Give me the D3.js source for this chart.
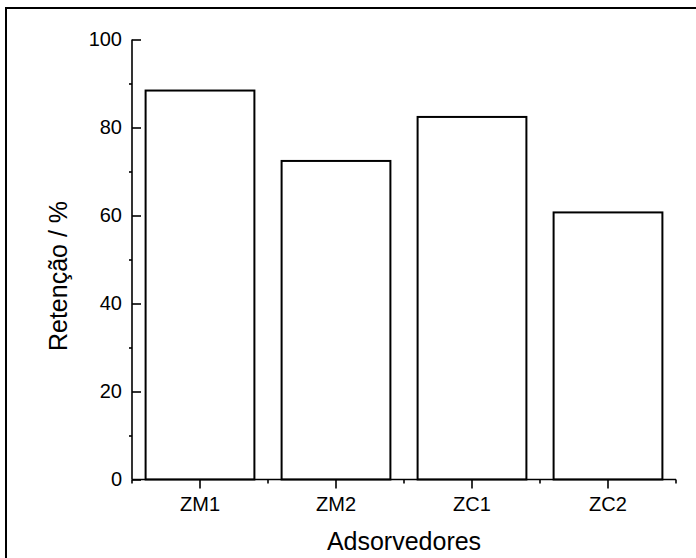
<!DOCTYPE html>
<html>
<head>
<meta charset="utf-8">
<script src="https://cdn.jsdelivr.net/npm/d3@7"></script>
<style>
  html, body { margin: 0; padding: 0; background: #fff; }
  svg { display: block; }
  text { font-family: "Liberation Sans", Arial, sans-serif; fill: #000; }
</style>
</head>
<body>
<svg id="chart" width="696" height="558"></svg>
<script>
const categories = ["ZM1", "ZM2", "ZC1", "ZC2"];
const values = [88.4, 72.4, 82.4, 60.7];
const yMajorTicks = [0, 20, 40, 60, 80, 100];
const yMinorTicks = [10, 30, 50, 70, 90];
const xTitle = "Adsorvedores";
const yTitle = "Retenção / %";

const svg = d3.select("#chart");

// outer frame
svg.append("rect")
  .attr("x", 6).attr("y", 8)
  .attr("width", 720).attr("height", 600)
  .attr("fill", "none").attr("stroke", "#000").attr("stroke-width", 2);

const pLeft = 132, pRight = 676, pTop = 39.5, pBottom = 479.5;

const x = d3.scaleBand().domain(categories).range([pLeft, pRight])
  .paddingInner(0.2).paddingOuter(0.1);
const y = d3.scaleLinear().domain([0, 100]).range([pBottom, pTop]);

// bars
svg.append("g").selectAll("rect").data(categories).join("rect")
  .attr("x", d => x(d))
  .attr("y", (d, i) => y(values[i]))
  .attr("width", x.bandwidth())
  .attr("height", (d, i) => y(0) - y(values[i]))
  .attr("fill", "#fff").attr("stroke", "#000").attr("stroke-width", 2);

// y axis
const yAxis = svg.append("g").attr("transform", `translate(${pLeft},0)`)
  .call(d3.axisRight(y).tickValues(yMajorTicks).tickSize(9).tickFormat(""));
yAxis.select(".domain").remove();
yAxis.selectAll("line").attr("stroke", "#000").attr("stroke-width", 1.6);
const yMinor = svg.append("g").attr("transform", `translate(${pLeft},0)`)
  .call(d3.axisLeft(y).tickValues(yMinorTicks).tickSize(3).tickFormat(""));
yMinor.select(".domain").remove();
yMinor.selectAll("line").attr("stroke", "#000").attr("stroke-width", 1.6);
svg.append("g").selectAll("text").data(yMajorTicks).join("text")
  .attr("x", pLeft - 10).attr("y", d => y(d))
  .attr("dy", "0.32em")
  .attr("text-anchor", "end")
  .style("font-size", "20px")
  .text(d => d);
svg.append("line")
  .attr("x1", pLeft).attr("x2", pLeft).attr("y1", pTop).attr("y2", pBottom)
  .attr("stroke", "#000").attr("stroke-width", 1.6);

// x axis
const xAxis = svg.append("g").attr("transform", `translate(0,${pBottom})`)
  .call(d3.axisBottom(x).tickSize(9).tickPadding(8));
xAxis.select(".domain").remove();
xAxis.selectAll("line").attr("stroke", "#000").attr("stroke-width", 1.6);
xAxis.selectAll("text").style("font-size", "20px")
  .style("font-family", "'Liberation Sans', Arial, sans-serif");
const boundaries = categories.map(c => x(c) - x.step() * x.paddingInner() / 2)
  .concat([pRight]);
svg.append("g").selectAll("line").data(boundaries).join("line")
  .attr("x1", d => d).attr("x2", d => d)
  .attr("y1", pBottom).attr("y2", pBottom + 4)
  .attr("stroke", "#000").attr("stroke-width", 1.6);
svg.append("line")
  .attr("x1", pLeft).attr("x2", pRight).attr("y1", pBottom).attr("y2", pBottom)
  .attr("stroke", "#000").attr("stroke-width", 1.6);

// titles
svg.append("text")
  .attr("x", (pLeft + pRight) / 2).attr("y", 550)
  .attr("text-anchor", "middle")
  .style("font-size", "25px")
  .text(xTitle);
svg.append("text")
  .attr("transform", "translate(67,276) rotate(-90)")
  .attr("text-anchor", "middle")
  .style("font-size", "25px")
  .text(yTitle);
</script>
</body>
</html>
